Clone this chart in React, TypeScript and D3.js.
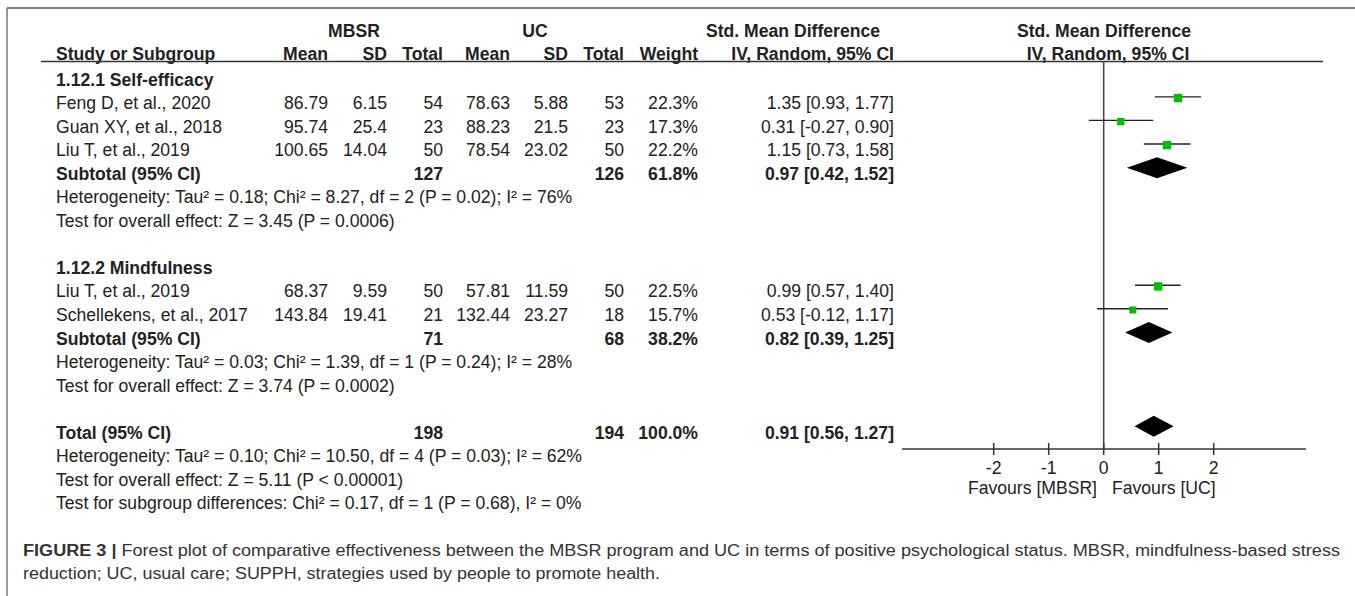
import React from "react";
import * as d3 from "d3";

// ---- Data ----
const studyNames = ["Feng D, et al., 2020", "Guan XY, et al., 2018", "Liu T, et al., 2019", "Liu T, et al., 2019", "Schellekens, et al., 2017"];
const mbsrMean = ["86.79", "95.74", "100.65", "68.37", "143.84"];
const mbsrSD = ["6.15", "25.4", "14.04", "9.59", "19.41"];
const mbsrTotal = [54, 23, 50, 50, 21];
const ucMean = ["78.63", "88.23", "78.54", "57.81", "132.44"];
const ucSD = ["5.88", "21.5", "23.02", "11.59", "23.27"];
const ucTotal = [53, 23, 50, 50, 18];
const weights = [22.3, 17.3, 22.2, 22.5, 15.7];
const smd = [1.35, 0.31, 1.15, 0.99, 0.53];
const ciLow = [0.93, -0.27, 0.73, 0.57, -0.12];
const ciHigh = [1.77, 0.9, 1.58, 1.4, 1.17];

const groupTitles = ["1.12.1 Self-efficacy", "1.12.2 Mindfulness"];
const subMbsrTotal = [127, 71];
const subUcTotal = [126, 68];
const subWeight = [61.8, 38.2];
const subSmd = [0.97, 0.82];
const subLow = [0.42, 0.39];
const subHigh = [1.52, 1.25];
const subHetero = [
  "Heterogeneity: Tau² = 0.18; Chi² = 8.27, df = 2 (P = 0.02); I² = 76%",
  "Heterogeneity: Tau² = 0.03; Chi² = 1.39, df = 1 (P = 0.24); I² = 28%",
];
const subTest = [
  "Test for overall effect: Z = 3.45 (P = 0.0006)",
  "Test for overall effect: Z = 3.74 (P = 0.0002)",
];

const totalMbsr = 198;
const totalUc = 194;
const totalWeight = 100.0;
const totalSmd = 0.91;
const totalLow = 0.56;
const totalHigh = 1.27;
const totalNotes = [
  "Heterogeneity: Tau² = 0.10; Chi² = 10.50, df = 4 (P = 0.03); I² = 62%",
  "Test for overall effect: Z = 5.11 (P < 0.00001)",
  "Test for subgroup differences: Chi² = 0.17, df = 1 (P = 0.68), I² = 0%",
];

const axisTicks = [-2, -1, 0, 1, 2];
const favourLeft = "Favours [MBSR]";
const favourRight = "Favours [UC]";

const captionBold = "FIGURE 3 | ";
const captionLine1 = "Forest plot of comparative effectiveness between the MBSR program and UC in terms of positive psychological status. MBSR, mindfulness-based stress";
const captionLine2 = "reduction; UC, usual care; SUPPH, strategies used by people to promote health.";

// ---- Layout ----
const W = 1355;
const H = 596;
const FONT = "'Liberation Sans', Arial, Helvetica, sans-serif";
const FS = 17.6;
const INK = "#222";

const loc = d3.formatLocale({ decimal: ".", thousands: ",", grouping: [3], currency: ["", ""], minus: "-" });
const f2 = loc.format(".2f");
const f1 = loc.format(".1f");
const ciText = (m: number, l: number, h: number) => `${f2(m)} [${f2(l)}, ${f2(h)}]`;

export default function App() {
  const y = d3.scaleLinear().domain([0, 18]).range([85.5, 85.5 + 18 * 23.55]);
  const x = d3.scaleLinear().domain([-2, 2]).range([993.7, 1213.7]);
  const sq = d3.scaleSqrt().domain([0, 22.5]).range([0, 8.4]);
  const markOff = -11;
  const diaH = 10.5;
  const axisY = 449;

  const studyRows = [1, 2, 3, 9, 10];
  const groupRows = [0, 8];
  const subRows = [4, 11];
  const totalRow = 15;

  const col = { name: 56, mMean: 328, mSD: 387, mTot: 443, uMean: 510, uSD: 568, uTot: 624, wt: 698, ci: 894 };

  const T = (props: any) => (
    <text fontFamily={FONT} fontSize={FS} fill={INK} {...props} />
  );

  const diamond = (m: number, l: number, h: number, cy: number) =>
    `M${x(l)},${cy} L${x(m)},${cy - diaH} L${x(h)},${cy} L${x(m)},${cy + diaH} Z`;

  return (
    <svg width={W} height={H} style={{ position: "absolute", left: 0, top: 0, background: "#fff" }}>
      <rect x={0} y={0} width={W} height={H} fill="#fff" />
      <line x1={7} y1={8} x2={W} y2={8} stroke="#555" strokeWidth={1.5} />
      <line x1={7} y1={8} x2={7} y2={H} stroke="#777" strokeWidth={1.5} />

      <T x={354} y={37} textAnchor="middle" fontWeight="bold">MBSR</T>
      <T x={535} y={37} textAnchor="middle" fontWeight="bold">UC</T>
      <T x={793} y={37} textAnchor="middle" fontWeight="bold">Std. Mean Difference</T>
      <T x={1104} y={37} textAnchor="middle" fontWeight="bold">Std. Mean Difference</T>
      <T x={col.name} y={59.5} fontWeight="bold">Study or Subgroup</T>
      <T x={col.mMean} y={59.5} textAnchor="end" fontWeight="bold">Mean</T>
      <T x={col.mSD} y={59.5} textAnchor="end" fontWeight="bold">SD</T>
      <T x={col.mTot} y={59.5} textAnchor="end" fontWeight="bold">Total</T>
      <T x={col.uMean} y={59.5} textAnchor="end" fontWeight="bold">Mean</T>
      <T x={col.uSD} y={59.5} textAnchor="end" fontWeight="bold">SD</T>
      <T x={col.uTot} y={59.5} textAnchor="end" fontWeight="bold">Total</T>
      <T x={col.wt} y={59.5} textAnchor="end" fontWeight="bold">Weight</T>
      <T x={col.ci} y={59.5} textAnchor="end" fontWeight="bold">IV, Random, 95% CI</T>
      <T x={1108} y={59.5} textAnchor="middle" fontWeight="bold">IV, Random, 95% CI</T>
      <line x1={41} y1={61.5} x2={1323} y2={61.5} stroke="#333" strokeWidth={1.6} />

      <line x1={x(0)} y1={61.5} x2={x(0)} y2={axisY} stroke="#444" strokeWidth={1.5} />

      {groupTitles.map((g, i) => (
        <T key={"g" + i} x={col.name} y={y(groupRows[i])} fontWeight="bold">{g}</T>
      ))}

      {studyNames.map((n, i) => {
        const yy = y(studyRows[i]);
        const cy = yy + markOff;
        const s = sq(weights[i]);
        return (
          <g key={"s" + i}>
            <T x={col.name} y={yy}>{n}</T>
            <T x={col.mMean} y={yy} textAnchor="end">{mbsrMean[i]}</T>
            <T x={col.mSD} y={yy} textAnchor="end">{mbsrSD[i]}</T>
            <T x={col.mTot} y={yy} textAnchor="end">{mbsrTotal[i]}</T>
            <T x={col.uMean} y={yy} textAnchor="end">{ucMean[i]}</T>
            <T x={col.uSD} y={yy} textAnchor="end">{ucSD[i]}</T>
            <T x={col.uTot} y={yy} textAnchor="end">{ucTotal[i]}</T>
            <T x={col.wt} y={yy} textAnchor="end">{f1(weights[i])}%</T>
            <T x={col.ci} y={yy} textAnchor="end">{ciText(smd[i], ciLow[i], ciHigh[i])}</T>
            <line x1={x(ciLow[i])} x2={x(ciHigh[i])} y1={cy - 1.2} y2={cy - 1.2} stroke={INK} strokeWidth={1.4} />
            <rect x={x(smd[i]) - s / 2} y={cy - s / 2} width={s} height={s} fill="#00c000" />
          </g>
        );
      })}

      {subRows.map((r, i) => {
        const yy = y(r);
        return (
          <g key={"st" + i}>
            <T x={col.name} y={yy} fontWeight="bold">Subtotal (95% CI)</T>
            <T x={col.mTot} y={yy} textAnchor="end" fontWeight="bold">{subMbsrTotal[i]}</T>
            <T x={col.uTot} y={yy} textAnchor="end" fontWeight="bold">{subUcTotal[i]}</T>
            <T x={col.wt} y={yy} textAnchor="end" fontWeight="bold">{f1(subWeight[i])}%</T>
            <T x={col.ci} y={yy} textAnchor="end" fontWeight="bold">{ciText(subSmd[i], subLow[i], subHigh[i])}</T>
            <path d={diamond(subSmd[i], subLow[i], subHigh[i], yy + markOff - 1)} fill="#000" />
            <T x={col.name} y={y(r + 1)}>{subHetero[i]}</T>
            <T x={col.name} y={y(r + 2)}>{subTest[i]}</T>
          </g>
        );
      })}

      <T x={col.name} y={y(totalRow)} fontWeight="bold">Total (95% CI)</T>
      <T x={col.mTot} y={y(totalRow)} textAnchor="end" fontWeight="bold">{totalMbsr}</T>
      <T x={col.uTot} y={y(totalRow)} textAnchor="end" fontWeight="bold">{totalUc}</T>
      <T x={col.wt} y={y(totalRow)} textAnchor="end" fontWeight="bold">{f1(totalWeight)}%</T>
      <T x={col.ci} y={y(totalRow)} textAnchor="end" fontWeight="bold">{ciText(totalSmd, totalLow, totalHigh)}</T>
      <path d={diamond(totalSmd, totalLow, totalHigh, y(totalRow) + markOff - 1.5)} fill="#000" />
      {totalNotes.map((t, i) => (
        <T key={"tn" + i} x={col.name} y={y(totalRow + 1 + i)}>{t}</T>
      ))}

      <line x1={902} x2={1306} y1={axisY} y2={axisY} stroke="#333" strokeWidth={1.5} />
      {axisTicks.map((t) => (
        <g key={"t" + t}>
          <line x1={x(t)} x2={x(t)} y1={axisY - 6} y2={axisY + 6} stroke="#333" strokeWidth={1.5} />
          <T x={x(t)} y={axisY + 24.5} textAnchor="middle">{f1(t).replace(".0", "")}</T>
        </g>
      ))}
      <T x={1097} y={494} textAnchor="end">{favourLeft}</T>
      <T x={1112} y={494}>{favourRight}</T>

      <text x={23} y={556} fontFamily={FONT} fontSize={16} fill="#333" textLength={1317} lengthAdjust="spacingAndGlyphs">
        <tspan fontWeight="bold">{captionBold}</tspan>
        <tspan>{captionLine1}</tspan>
      </text>
      <text x={23} y={579} fontFamily={FONT} fontSize={16} fill="#333" textLength={637} lengthAdjust="spacingAndGlyphs">
        {captionLine2}
      </text>
    </svg>
  );
}
